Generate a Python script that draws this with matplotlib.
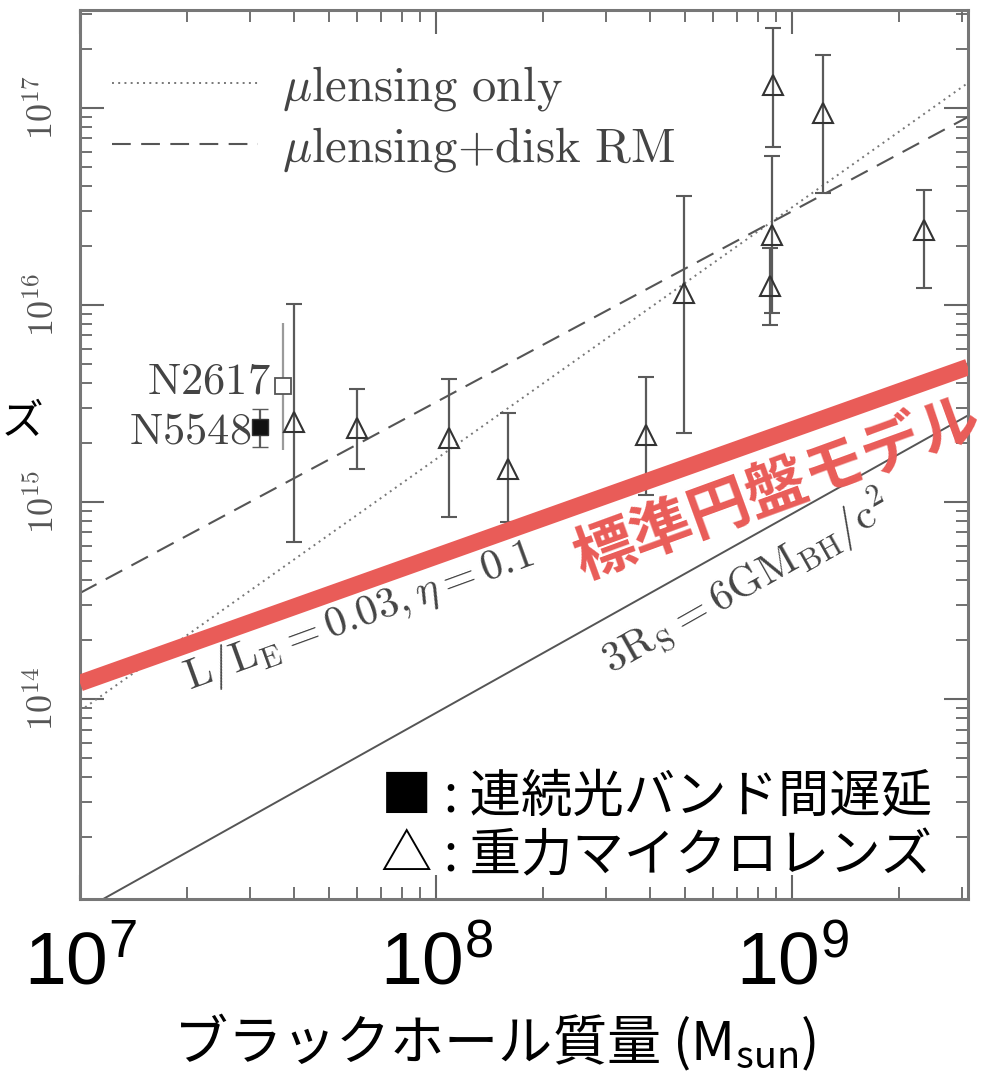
import matplotlib
matplotlib.use('Agg')
import matplotlib.pyplot as plt
from matplotlib.ticker import LogLocator, NullFormatter
import numpy as np

plt.rcParams['mathtext.fontset'] = 'cm'
plt.rcParams['font.family'] = ['Noto Sans CJK JP', 'DejaVu Sans']

# ---------------- data ----------------
# continuum inter-band lag (filled square)
cont_name = ['N5548']
cont_mass = [3.20e7]
cont_size = [2.40e15]
cont_lo = [1.90e15]
cont_hi = [2.97e15]

# NGC 2617 (open square)
n2617_name = ['N2617']
n2617_mass = [3.72e7]
n2617_size = [3.88e15]
n2617_lo = [1.84e15]
n2617_hi = [8.1e15]

# gravitational microlensing (open triangles)
lens_mass = [3.99e7, 6.0e7, 1.09e8, 1.59e8, 3.89e8, 4.98e8, 8.79e8, 8.67e8, 8.85e8, 1.22e9, 2.35e9]
lens_size = [2.55e15, 2.38e15, 2.11e15, 1.47e15, 2.19e15, 1.15e16, 2.26e16, 1.25e16, 1.31e17, 9.4e16, 2.40e16]
lens_lo = [6.3e14, 1.47e15, 8.4e14, 7.9e14, 1.09e15, 2.24e15, 9.1e15, 7.9e15, 6.3e16, 3.7e16, 1.22e16]
lens_hi = [1.01e16, 3.75e15, 4.2e15, 2.83e15, 4.3e15, 3.57e16, 5.7e16, 1.95e16, 2.55e17, 1.86e17, 3.84e16]

# model lines (end points)
line_mass = [1e7, 3.12e9]
lens_only = [8.7e13, 1.34e17]
lens_disk = [3.45e14, 9.0e16]
disk_model = [1.205e14, 4.84e15]
isco_line = [8.3e12, 2.75e15]

xlim = (1e7, 3.12e9)
ylim = (9.66e12, 3.14e17)
xticks = [1e7, 1e8, 1e9]
xticklabels = [r'$\mathregular{10^{7}}$', r'$\mathregular{10^{8}}$', r'$\mathregular{10^{9}}$']
yticks = [1e14, 1e15, 1e16, 1e17]
yticklabels = [r'$10^{14}$', r'$10^{15}$', r'$10^{16}$', r'$10^{17}$']

legend_labels = [r'$\mu\mathrm{lensing\ only}$', r'$\mu\mathrm{lensing{+}disk\ RM}$']
key_lines = ['■ : 連続光バンド間遅延', '△ : 重力マイクロレンズ']

# ---------------- figure ----------------
W, H = 990, 1076
fig = plt.figure(figsize=(W / 100, H / 100), dpi=100)
ax = fig.add_axes([80 / W, 1 - 899 / H, 888 / W, 889 / H])
ax.set_xscale('log')
ax.set_yscale('log')
ax.set_xlim(*xlim)
ax.set_ylim(*ylim)

grey = '#5a5a5a'
red = '#e95c58'

l1, = ax.plot(line_mass, lens_only, color='#777777', lw=1.4, ls=(0, (1, 2.2)), zorder=2)
l2, = ax.plot(line_mass, lens_disk, color='#555555', lw=1.5, ls=(0, (9, 5)), zorder=2)
ax.plot(line_mass, isco_line, color='#555555', lw=1.4, zorder=2)

lens_size_a = np.array(lens_size)
ax.errorbar(lens_mass, lens_size,
            yerr=[lens_size_a - np.array(lens_lo), np.array(lens_hi) - lens_size_a],
            fmt='^', ms=14, mfc='none', mec='#333333', mew=1.5,
            ecolor=grey, elinewidth=1.6, capsize=6, capthick=1.5, zorder=3)

n_a = np.array(n2617_size)
ax.errorbar(n2617_mass, n2617_size,
            yerr=[n_a - np.array(n2617_lo), np.array(n2617_hi) - n_a],
            fmt='s', ms=11, mfc='white', mec='#555555', mew=1.3,
            ecolor='#9a9a9a', elinewidth=1.6, capsize=0, zorder=3)

c_a = np.array(cont_size)
ax.errorbar(cont_mass, cont_size,
            yerr=[c_a - np.array(cont_lo), np.array(cont_hi) - c_a],
            fmt='s', ms=12, mfc='#111111', mec='#333333', mew=1.0,
            ecolor=grey, elinewidth=1.6, capsize=6, capthick=1.5, zorder=3)

ax.plot(line_mass, disk_model, color=red, lw=12, solid_capstyle='butt', zorder=5)

# axes styling
for s in ax.spines.values():
    s.set_color('#777777')
    s.set_linewidth(2.2)
ax.xaxis.set_minor_locator(LogLocator(base=10, subs=np.arange(2, 10), numticks=20))
ax.yaxis.set_minor_locator(LogLocator(base=10, subs=np.arange(2, 10), numticks=20))
ax.xaxis.set_minor_formatter(NullFormatter())
ax.yaxis.set_minor_formatter(NullFormatter())
ax.tick_params(which='both', direction='in', top=True, right=True, color='#666666')
ax.tick_params(which='major', length=17, width=1.5)
ax.tick_params(which='minor', length=8.5, width=1.3)

ax.set_xticks(xticks)
ax.set_xticklabels(xticklabels, fontsize=54, family='Liberation Sans', color='black')
ax.tick_params(axis='x', which='major', pad=22)
ax.set_yticks(yticks)
ax.set_yticklabels(yticklabels, fontsize=26, color='#555555', rotation=90, va='center')
ax.tick_params(axis='y', which='major', pad=13)

ax.set_xlabel('ブラックホール質量 (M$\\mathregular{_{sun}}$)', fontsize=39, va='baseline')
ax.xaxis.set_label_coords((495 - 80) / 888, (899 - 1060) / 889)
ax.set_ylabel('ズ', fontsize=30, rotation=0, ha='center', va='center')
ax.yaxis.set_label_coords((22 - 80) / 888, (899 - 423) / 889)

leg = ax.legend([l1, l2], legend_labels, loc='upper left',
                bbox_to_anchor=((112 - 80) / 888, (899 - 62) / 889),
                frameon=False, fontsize=35, handlelength=3.0, handletextpad=0.5,
                labelspacing=0.2, borderaxespad=0, borderpad=0)
for t in leg.get_texts():
    t.set_color('#444444')


def fx(px):
    return px / W


def fy(py):
    return 1 - py / H


fig.text(fx(271), fy(381), r'$\mathrm{N2617}$', fontsize=32, color='#444444', ha='right', va='center')
fig.text(fx(251), fy(430), r'$\mathrm{N5548}$', fontsize=32, color='#444444', ha='right', va='center')

fig.text(fx(190), fy(690), r'$\mathrm{L/L_{E}{=}0.03,}\eta\mathrm{{=}0.1}$', fontsize=31,
         color='#444444', rotation=20, rotation_mode='anchor', ha='left', va='baseline')
fig.text(fx(612), fy(675), r'$\mathrm{3R_{S}{=}6GM_{BH}/c^{2}}$', fontsize=31,
         color='#444444', rotation=29.5, rotation_mode='anchor', ha='left', va='baseline')

fig.text(fx(778), fy(489), '標準円盤モデル', fontsize=44, fontweight='bold', color=red,
         rotation=20, rotation_mode='anchor', ha='center', va='center', zorder=6)

fig.text(fx(381), fy(797), key_lines[0], fontsize=37, color='black', ha='left', va='center')
fig.text(fx(381), fy(857), key_lines[1], fontsize=37, color='black', ha='left', va='center')

fig.savefig('out.png', dpi=100, facecolor='white')
